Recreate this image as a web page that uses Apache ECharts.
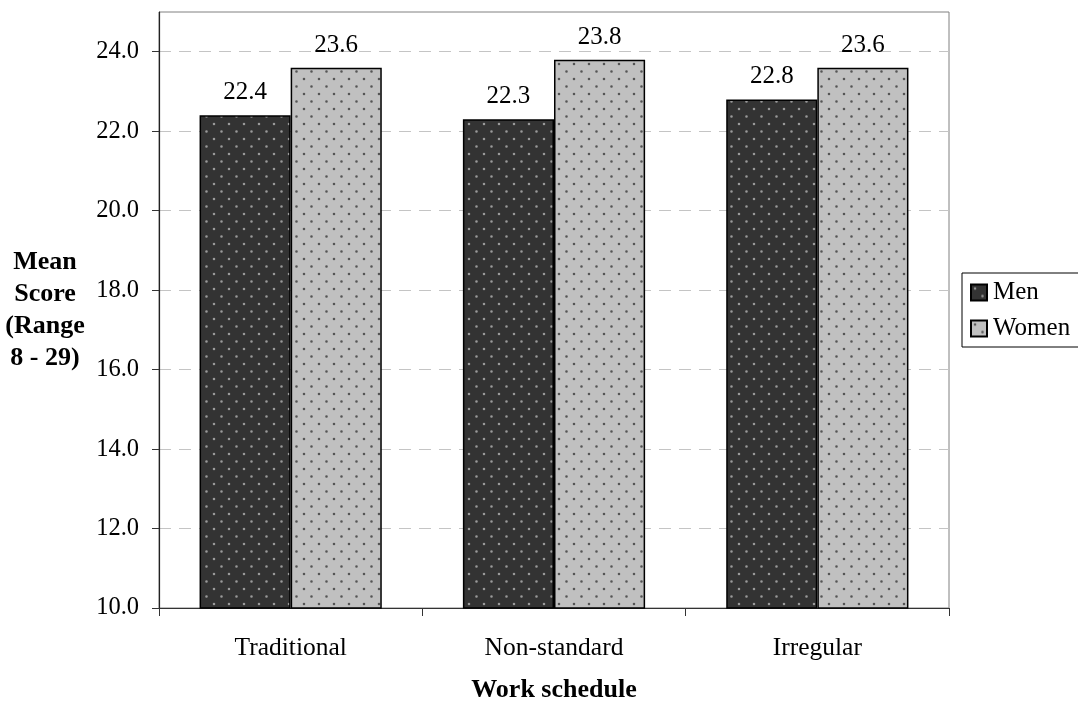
<!DOCTYPE html>
<html>
<head>
<meta charset="utf-8">
<script src="https://cdn.jsdelivr.net/npm/echarts@6/dist/echarts.min.js"></script>
<style>
  html, body { margin: 0; padding: 0; background: #ffffff; }
  #chart { width: 1078px; height: 704px; }
</style>
</head>
<body>
<div id="chart"></div>
<script>
// Work schedule categories and mean scores by gender
const categories = ['Traditional', 'Non-standard', 'Irregular'];
const menScores = [22.4, 22.3, 22.8];
const womenScores = [23.6, 23.8, 23.6];
const yTickValues = [10, 12, 14, 16, 18, 20, 22, 24];

// Dotted fill used for each series
function dotPattern(bg, dot) {
  const c = document.createElement('canvas');
  c.width = 15;
  c.height = 15;
  const ctx = c.getContext('2d');
  ctx.fillStyle = bg;
  ctx.fillRect(0, 0, 15, 15);
  ctx.fillStyle = dot;
  ctx.beginPath();
  ctx.arc(4, 4, 1.3, 0, Math.PI * 2);
  ctx.arc(11.5, 11.5, 1.3, 0, Math.PI * 2);
  ctx.fill();
  return c;
}

const serif = "'Liberation Serif', 'Times New Roman', serif";
const chart = echarts.init(document.getElementById('chart'), null, { renderer: 'canvas' });

const barLabel = {
  show: true,
  position: 'top',
  distance: 10,
  fontFamily: serif,
  fontSize: 25,
  color: '#000',
  formatter: p => p.value.toFixed(1)
};

chart.setOption({
  backgroundColor: '#ffffff',
  animation: false,
  grid: {
    left: 159,
    top: 12,
    right: 129,
    bottom: 96,
    outerBoundsMode: 'none',
    containLabel: false,
    show: true,
    borderColor: '#808080',
    borderWidth: 1,
    backgroundColor: 'transparent'
  },
  legend: {
    orient: 'vertical',
    left: 962,
    top: 273,
    padding: [7, 60, 6, 8],
    itemGap: 11,
    itemWidth: 16,
    itemHeight: 16,
    icon: 'rect',
    borderColor: '#000',
    borderWidth: 1,
    textStyle: { fontFamily: serif, fontSize: 25, color: '#000', padding: [0, 0, 0, 1] },
    data: ['Men', 'Women']
  },
  xAxis: {
    type: 'category',
    data: categories,
    boundaryGap: true,
    name: 'Work schedule',
    nameLocation: 'middle',
    nameGap: 82,
    nameTextStyle: { fontFamily: serif, fontSize: 26, fontWeight: 'bold', color: '#000', verticalAlign: 'middle' },
    axisLine: { lineStyle: { color: '#333', width: 1.2 } },
    axisTick: { show: true, alignWithLabel: false, length: 8, lineStyle: { color: '#333' } },
    axisLabel: { fontFamily: serif, fontSize: 25.5, color: '#000', margin: 27 },
    splitLine: { show: false }
  },
  yAxis: {
    type: 'value',
    min: 10,
    max: 25,
    interval: 2,
    name: 'Mean\nScore\n(Range\n8 - 29)',
    nameLocation: 'middle',
    nameRotate: 0,
    nameGap: 114,
    nameTextStyle: {
      fontFamily: serif, fontSize: 26, fontWeight: 'bold', color: '#000',
      align: 'center', verticalAlign: 'middle', lineHeight: 32
    },
    axisLine: { show: true, lineStyle: { color: '#222', width: 1.2 } },
    axisTick: { show: true, inside: false, length: 7, customValues: yTickValues, lineStyle: { color: '#333' } },
    axisLabel: {
      fontFamily: serif, fontSize: 24.5, color: '#000', margin: 20,
      customValues: yTickValues,
      formatter: v => v.toFixed(1)
    },
    splitLine: {
      show: true,
      lineStyle: { color: '#c4c4c4', type: [12, 8], width: 1 }
    }
  },
  series: [
    {
      name: 'Men',
      type: 'bar',
      data: menScores,
      barWidth: '34.6%',
      barGap: '0%',
      itemStyle: {
        color: { image: dotPattern('#333333', '#9a9a9a'), repeat: 'repeat' },
        borderColor: '#000',
        borderWidth: 1.5
      },
      label: barLabel
    },
    {
      name: 'Women',
      type: 'bar',
      data: womenScores,
      barWidth: '34.6%',
      barGap: '0%',
      itemStyle: {
        color: { image: dotPattern('#c0c0c0', '#555555'), repeat: 'repeat' },
        borderColor: '#000',
        borderWidth: 1.5
      },
      label: barLabel
    }
  ]
});
</script>
</body>
</html>
